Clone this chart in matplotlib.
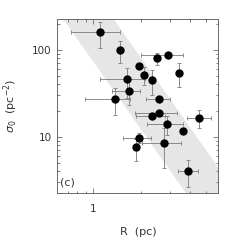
import numpy as np
import matplotlib
matplotlib.use("Agg")
import matplotlib.pyplot as plt
from matplotlib.ticker import LogLocator, NullFormatter, FixedLocator, FixedFormatter

# ---- data ----
R = [1.105, 1.466, 1.932, 2.48, 2.93, 3.40, 2.075, 1.637, 2.318, 1.667, 1.374,
     2.563, 2.563, 2.34, 2.886, 3.63, 4.54, 1.924, 1.862, 2.753, 3.91]
sigma0 = [160, 100.8, 64.9, 80.2, 86.4, 53.8, 51.0, 46.3, 45.1, 33.9, 27.0,
          27.0, 18.9, 17.5, 13.9, 11.7, 16.3, 9.72, 7.55, 8.36, 3.99]
# error bar bounds (nan = no bar)
nan = np.nan
R_lo = [0.734, nan, nan, nan, 2.0, nan, nan, 1.10, nan, 1.32, 0.897,
        2.148, 1.817, 1.86, 2.167, nan, 3.84, 1.537, nan, 2.017, 3.38]
R_hi = [1.48, nan, nan, nan, 3.63, nan, nan, 2.10, nan, 1.95, 1.70,
        3.0, 3.30, 2.79, 3.60, nan, 5.37, 2.307, nan, 3.51, 4.46]
s_lo = [104.6, 70.3, nan, 67.2, nan, 37.8, 39.4, 27.7, 30.3, 23.2, 17.8,
        nan, nan, nan, 10.5, nan, 12.5, 8.5, 5.25, 4.39, 2.65]
s_hi = [212, 128, nan, 91.6, nan, 70.3, 64.1, 61.5, 58.8, 45.1, 36.1,
        nan, nan, nan, 17.5, nan, 20.3, 11.1, 9.5, 12.5, 5.38]

# shaded band: sigma = A * R**slope
band_slope = -2.63
band_A_lo = 73.8
band_A_hi = 492.0

xlim = (0.6, 6.0)
ylim = (2.26, 226)

fig = plt.figure(figsize=(2.45, 2.40), dpi=100)
ax = fig.add_axes([0.234, 0.197, 0.657, 0.723])
ax.set_xscale('log')
ax.set_yscale('log')

xb = np.logspace(np.log10(xlim[0]), np.log10(xlim[1]), 200)
ax.fill_between(xb, band_A_lo * xb ** band_slope, band_A_hi * xb ** band_slope,
                color='#e6e6e6', lw=0, zorder=1)

ecol = '#8a8a8a'
for i in range(len(R)):
    x, y = R[i], sigma0[i]
    if not np.isnan(R_lo[i]):
        ax.errorbar([x], [y], xerr=[[x - R_lo[i]], [R_hi[i] - x]], fmt='none',
                    ecolor=ecol, elinewidth=0.7, capsize=1.6, capthick=0.7, zorder=2)
    if not np.isnan(s_lo[i]):
        ax.errorbar([x], [y], yerr=[[y - s_lo[i]], [s_hi[i] - y]], fmt='none',
                    ecolor=ecol, elinewidth=0.7, capsize=1.6, capthick=0.7, zorder=2)
ax.plot(R, sigma0, 'o', color='black', markersize=5, zorder=3)

ax.set_xlim(*xlim)
ax.set_ylim(*ylim)

ax.xaxis.set_major_locator(FixedLocator([1]))
ax.xaxis.set_major_formatter(FixedFormatter(['1']))
ax.xaxis.set_minor_locator(LogLocator(base=10, subs=np.arange(2, 10) * 1.0))
ax.xaxis.set_minor_formatter(NullFormatter())
ax.yaxis.set_major_locator(FixedLocator([10, 100]))
ax.yaxis.set_major_formatter(FixedFormatter(['10', '100']))
ax.yaxis.set_minor_locator(LogLocator(base=10, subs=np.arange(2, 10) * 1.0))
ax.yaxis.set_minor_formatter(NullFormatter())

tcol = '#6a6a6a'
ax.tick_params(which='both', direction='in', top=True, right=True, color=tcol, width=0.6)
ax.tick_params(which='major', length=3.5, labelsize=7.5, labelcolor='#333333')
ax.tick_params(which='minor', length=1.8)
ax.tick_params(axis='x', which='major', pad=8)
ax.tick_params(axis='y', which='major', pad=4)
for s in ax.spines.values():
    s.set_color(tcol)
    s.set_linewidth(0.7)

ax.set_xlabel('R  (pc)', fontsize=8, color='#333333')
ax.xaxis.set_label_coords(0.5, -0.196)
ax.set_ylabel(r'$\sigma_0$  (pc$^{-2}$)', fontsize=8, color='#333333')
ax.yaxis.set_label_coords(-0.23, 0.5)
ax.text(0.015, 0.058, '(c)', transform=ax.transAxes, fontsize=8,
        color='#333333', va='center', ha='left')

fig.savefig('out.png', dpi=100)
